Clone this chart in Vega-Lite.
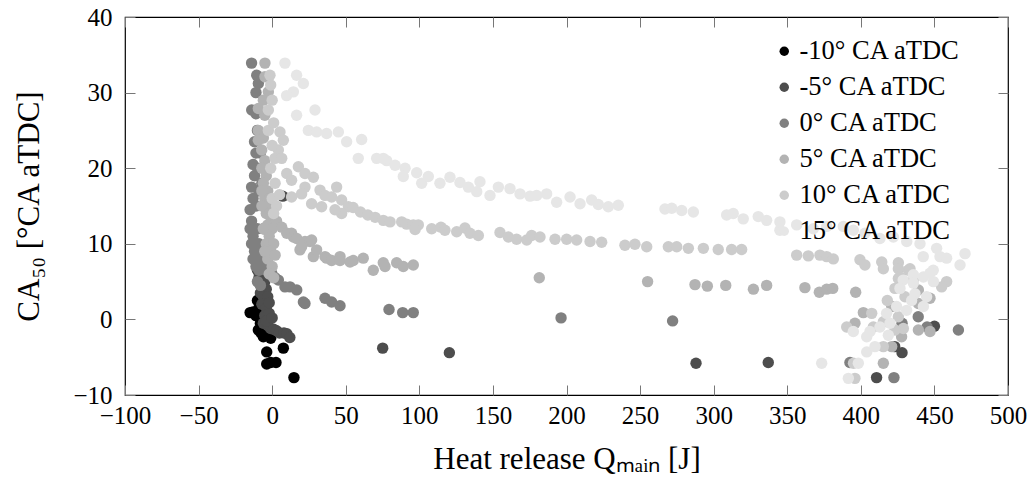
{
  "$schema": "https://vega.github.io/schema/vega-lite/v6.json",
  "width": 883,
  "height": 378,
  "autosize": "none",
  "padding": {"left": 125, "top": 17, "right": 25, "bottom": 84},
  "background": "white",
  "config": {
    "view": {"stroke": "black", "strokeWidth": 1.2},
    "font": "Liberation Serif",
    "axis": {"grid": false, "domain": false, "tickColor": "#777", "tickSize": -10, "tickWidth": 1,
             "labelFont": "Liberation Serif", "labelFontSize": 25, "labelColor": "black",
             "titleFont": "Liberation Serif", "titleFontSize": 31, "titleFontWeight": "normal", "titleColor": "black"}
  },
  "datasets": {
    "pts": [
      {"q": -15, "ca": 0.9, "s": "-10° CA aTDC"},
      {"q": -13, "ca": 1.0, "s": "-10° CA aTDC"},
      {"q": -11, "ca": 0.5, "s": "-10° CA aTDC"},
      {"q": -9.4, "ca": -1.4, "s": "-10° CA aTDC"},
      {"q": -7.6, "ca": -1.8, "s": "-10° CA aTDC"},
      {"q": -6, "ca": -2.3, "s": "-10° CA aTDC"},
      {"q": -5, "ca": -1.0, "s": "-10° CA aTDC"},
      {"q": -3, "ca": -2.0, "s": "-10° CA aTDC"},
      {"q": -8, "ca": -0.5, "s": "-10° CA aTDC"},
      {"q": -10, "ca": 2.5, "s": "-10° CA aTDC"},
      {"q": -9, "ca": 1.5, "s": "-10° CA aTDC"},
      {"q": -7, "ca": 3, "s": "-10° CA aTDC"},
      {"q": -3.7, "ca": -4.3, "s": "-10° CA aTDC"},
      {"q": 7.6, "ca": -3.8, "s": "-10° CA aTDC"},
      {"q": -3.7, "ca": -5.9, "s": "-10° CA aTDC"},
      {"q": -1, "ca": -5.7, "s": "-10° CA aTDC"},
      {"q": 2.6, "ca": -5.7, "s": "-10° CA aTDC"},
      {"q": 14.8, "ca": -7.7, "s": "-10° CA aTDC"},
      {"q": -4, "ca": -1.6, "s": "-10° CA aTDC"},
      {"q": -1, "ca": -2.5, "s": "-10° CA aTDC"},

      {"q": -8, "ca": 7, "s": "-5° CA aTDC"},
      {"q": -6, "ca": 6, "s": "-5° CA aTDC"},
      {"q": -9, "ca": 5.5, "s": "-5° CA aTDC"},
      {"q": -5, "ca": 5, "s": "-5° CA aTDC"},
      {"q": -7, "ca": 4.5, "s": "-5° CA aTDC"},
      {"q": -4, "ca": 4, "s": "-5° CA aTDC"},
      {"q": -8, "ca": 3.5, "s": "-5° CA aTDC"},
      {"q": -6, "ca": 3, "s": "-5° CA aTDC"},
      {"q": -3, "ca": 3, "s": "-5° CA aTDC"},
      {"q": -7, "ca": 2, "s": "-5° CA aTDC"},
      {"q": -4, "ca": 1.5, "s": "-5° CA aTDC"},
      {"q": -5, "ca": 0.5, "s": "-5° CA aTDC"},
      {"q": -2, "ca": 0.8, "s": "-5° CA aTDC"},
      {"q": -6, "ca": -0.5, "s": "-5° CA aTDC"},
      {"q": -3, "ca": -0.8, "s": "-5° CA aTDC"},
      {"q": -1, "ca": -1.2, "s": "-5° CA aTDC"},
      {"q": 1, "ca": -1.3, "s": "-5° CA aTDC"},
      {"q": 3, "ca": -1.5, "s": "-5° CA aTDC"},
      {"q": 5, "ca": -1.8, "s": "-5° CA aTDC"},
      {"q": 8, "ca": -1.8, "s": "-5° CA aTDC"},
      {"q": 10, "ca": -1.9, "s": "-5° CA aTDC"},
      {"q": 12, "ca": -2.4, "s": "-5° CA aTDC"},
      {"q": -2, "ca": 2.2, "s": "-5° CA aTDC"},
      {"q": -4, "ca": -0.2, "s": "-5° CA aTDC"},
      {"q": 0, "ca": 0.2, "s": "-5° CA aTDC"},
      {"q": -10, "ca": 6.5, "s": "-5° CA aTDC"},
      {"q": -12, "ca": 8, "s": "-5° CA aTDC"},
      {"q": 7.2, "ca": 16.3, "s": "-5° CA aTDC"},
      {"q": 75.1, "ca": -3.8, "s": "-5° CA aTDC"},
      {"q": 120.4, "ca": -4.4, "s": "-5° CA aTDC"},
      {"q": 288, "ca": -5.8, "s": "-5° CA aTDC"},
      {"q": 337.1, "ca": -5.7, "s": "-5° CA aTDC"},
      {"q": 410.7, "ca": -7.7, "s": "-5° CA aTDC"},
      {"q": 428, "ca": -4.4, "s": "-5° CA aTDC"},
      {"q": 423, "ca": -3.6, "s": "-5° CA aTDC"},
      {"q": 450, "ca": -0.9, "s": "-5° CA aTDC"},

      {"q": -14, "ca": 33.9, "s": "0° CA aTDC"},
      {"q": -10.5, "ca": 32.3, "s": "0° CA aTDC"},
      {"q": -9.4, "ca": 31.2, "s": "0° CA aTDC"},
      {"q": -11, "ca": 30, "s": "0° CA aTDC"},
      {"q": -13.9, "ca": 27.7, "s": "0° CA aTDC"},
      {"q": -11, "ca": 27.2, "s": "0° CA aTDC"},
      {"q": -10, "ca": 25, "s": "0° CA aTDC"},
      {"q": -12, "ca": 23.5, "s": "0° CA aTDC"},
      {"q": -11, "ca": 22, "s": "0° CA aTDC"},
      {"q": -13, "ca": 20.5, "s": "0° CA aTDC"},
      {"q": -12, "ca": 19, "s": "0° CA aTDC"},
      {"q": -14, "ca": 17.5, "s": "0° CA aTDC"},
      {"q": -13, "ca": 16, "s": "0° CA aTDC"},
      {"q": -15, "ca": 14.5, "s": "0° CA aTDC"},
      {"q": -14, "ca": 13, "s": "0° CA aTDC"},
      {"q": -15, "ca": 12, "s": "0° CA aTDC"},
      {"q": -13, "ca": 11, "s": "0° CA aTDC"},
      {"q": -14, "ca": 10, "s": "0° CA aTDC"},
      {"q": -12, "ca": 9, "s": "0° CA aTDC"},
      {"q": -13, "ca": 8, "s": "0° CA aTDC"},
      {"q": -11, "ca": 7, "s": "0° CA aTDC"},
      {"q": -9, "ca": 6.5, "s": "0° CA aTDC"},
      {"q": -10, "ca": 5, "s": "0° CA aTDC"},
      {"q": -8, "ca": 4.5, "s": "0° CA aTDC"},
      {"q": -8, "ca": 8, "s": "0° CA aTDC"},
      {"q": -9, "ca": 10, "s": "0° CA aTDC"},
      {"q": -10, "ca": 12, "s": "0° CA aTDC"},
      {"q": -11, "ca": 15, "s": "0° CA aTDC"},
      {"q": -9, "ca": 17, "s": "0° CA aTDC"},
      {"q": -10, "ca": 20, "s": "0° CA aTDC"},
      {"q": -8, "ca": 22, "s": "0° CA aTDC"},
      {"q": -7, "ca": 18, "s": "0° CA aTDC"},
      {"q": -6, "ca": 12, "s": "0° CA aTDC"},
      {"q": -7, "ca": 9, "s": "0° CA aTDC"},
      {"q": -5, "ca": 7, "s": "0° CA aTDC"},
      {"q": -4, "ca": 6.5, "s": "0° CA aTDC"},
      {"q": -0.3, "ca": 6.1, "s": "0° CA aTDC"},
      {"q": 2, "ca": 5.5, "s": "0° CA aTDC"},
      {"q": 4.2, "ca": 5.2, "s": "0° CA aTDC"},
      {"q": 8.7, "ca": 4.3, "s": "0° CA aTDC"},
      {"q": 12.1, "ca": 4.3, "s": "0° CA aTDC"},
      {"q": 16.7, "ca": 3.9, "s": "0° CA aTDC"},
      {"q": 22.3, "ca": 2.1, "s": "0° CA aTDC"},
      {"q": 21.2, "ca": 2.3, "s": "0° CA aTDC"},
      {"q": 35.9, "ca": 2.8, "s": "0° CA aTDC"},
      {"q": 40.4, "ca": 2.3, "s": "0° CA aTDC"},
      {"q": 46.1, "ca": 1.8, "s": "0° CA aTDC"},
      {"q": 79.4, "ca": 1.3, "s": "0° CA aTDC"},
      {"q": 88.7, "ca": 0.9, "s": "0° CA aTDC"},
      {"q": 95.9, "ca": 0.9, "s": "0° CA aTDC"},
      {"q": 196.3, "ca": 0.2, "s": "0° CA aTDC"},
      {"q": 272.1, "ca": -0.2, "s": "0° CA aTDC"},
      {"q": 392.6, "ca": -5.7, "s": "0° CA aTDC"},
      {"q": 422.5, "ca": -7.7, "s": "0° CA aTDC"},
      {"q": 466.3, "ca": -1.4, "s": "0° CA aTDC"},
      {"q": 439, "ca": 0.35, "s": "0° CA aTDC"},
      {"q": 428, "ca": -0.5, "s": "0° CA aTDC"},
      {"q": 445, "ca": -1, "s": "0° CA aTDC"},

      {"q": -4.9, "ca": 33.9, "s": "5° CA aTDC"},
      {"q": -4.9, "ca": 32.1, "s": "5° CA aTDC"},
      {"q": -2.6, "ca": 30.1, "s": "5° CA aTDC"},
      {"q": -6, "ca": 29, "s": "5° CA aTDC"},
      {"q": -9.4, "ca": 27.9, "s": "5° CA aTDC"},
      {"q": -5, "ca": 27, "s": "5° CA aTDC"},
      {"q": -9.4, "ca": 25, "s": "5° CA aTDC"},
      {"q": -6, "ca": 24, "s": "5° CA aTDC"},
      {"q": -9.4, "ca": 23.7, "s": "5° CA aTDC"},
      {"q": -7.1, "ca": 22.4, "s": "5° CA aTDC"},
      {"q": -5, "ca": 21, "s": "5° CA aTDC"},
      {"q": -7, "ca": 20, "s": "5° CA aTDC"},
      {"q": -4, "ca": 19, "s": "5° CA aTDC"},
      {"q": -6, "ca": 18, "s": "5° CA aTDC"},
      {"q": -3, "ca": 17, "s": "5° CA aTDC"},
      {"q": -5, "ca": 16, "s": "5° CA aTDC"},
      {"q": -2, "ca": 15, "s": "5° CA aTDC"},
      {"q": -4, "ca": 14, "s": "5° CA aTDC"},
      {"q": -1, "ca": 13.5, "s": "5° CA aTDC"},
      {"q": -3, "ca": 12.5, "s": "5° CA aTDC"},
      {"q": 0, "ca": 12, "s": "5° CA aTDC"},
      {"q": -2, "ca": 11, "s": "5° CA aTDC"},
      {"q": -4, "ca": 10, "s": "5° CA aTDC"},
      {"q": 1, "ca": 10, "s": "5° CA aTDC"},
      {"q": -1, "ca": 9, "s": "5° CA aTDC"},
      {"q": -3, "ca": 8, "s": "5° CA aTDC"},
      {"q": 2, "ca": 8.5, "s": "5° CA aTDC"},
      {"q": 0, "ca": 7, "s": "5° CA aTDC"},
      {"q": -2, "ca": 6, "s": "5° CA aTDC"},
      {"q": 1, "ca": 5.5, "s": "5° CA aTDC"},
      {"q": -5, "ca": 9, "s": "5° CA aTDC"},
      {"q": -6, "ca": 12, "s": "5° CA aTDC"},
      {"q": -7, "ca": 15, "s": "5° CA aTDC"},
      {"q": -7, "ca": 17, "s": "5° CA aTDC"},
      {"q": 3, "ca": 13, "s": "5° CA aTDC"},
      {"q": 6.5, "ca": 12.2, "s": "5° CA aTDC"},
      {"q": 9.9, "ca": 11.4, "s": "5° CA aTDC"},
      {"q": 13.2, "ca": 11.4, "s": "5° CA aTDC"},
      {"q": 14.4, "ca": 10.9, "s": "5° CA aTDC"},
      {"q": 16.7, "ca": 10.7, "s": "5° CA aTDC"},
      {"q": 22.3, "ca": 10.3, "s": "5° CA aTDC"},
      {"q": 25.7, "ca": 10.3, "s": "5° CA aTDC"},
      {"q": 26.8, "ca": 10.5, "s": "5° CA aTDC"},
      {"q": 18.9, "ca": 9.2, "s": "5° CA aTDC"},
      {"q": 20, "ca": 9.6, "s": "5° CA aTDC"},
      {"q": 28, "ca": 8.3, "s": "5° CA aTDC"},
      {"q": 30.2, "ca": 9.2, "s": "5° CA aTDC"},
      {"q": 35.9, "ca": 8.3, "s": "5° CA aTDC"},
      {"q": 37, "ca": 8.1, "s": "5° CA aTDC"},
      {"q": 40.4, "ca": 7.8, "s": "5° CA aTDC"},
      {"q": 46.1, "ca": 8.3, "s": "5° CA aTDC"},
      {"q": 46.1, "ca": 7.8, "s": "5° CA aTDC"},
      {"q": 52.9, "ca": 7.6, "s": "5° CA aTDC"},
      {"q": 55.1, "ca": 7.8, "s": "5° CA aTDC"},
      {"q": 61.9, "ca": 8.1, "s": "5° CA aTDC"},
      {"q": 68.7, "ca": 6.5, "s": "5° CA aTDC"},
      {"q": 75.5, "ca": 7.5, "s": "5° CA aTDC"},
      {"q": 76.7, "ca": 7.0, "s": "5° CA aTDC"},
      {"q": 84.6, "ca": 7.5, "s": "5° CA aTDC"},
      {"q": 89.1, "ca": 7.0, "s": "5° CA aTDC"},
      {"q": 95.9, "ca": 7.2, "s": "5° CA aTDC"},
      {"q": 181.5, "ca": 5.5, "s": "5° CA aTDC"},
      {"q": 255.1, "ca": 5.0, "s": "5° CA aTDC"},
      {"q": 287.3, "ca": 4.6, "s": "5° CA aTDC"},
      {"q": 295.7, "ca": 4.4, "s": "5° CA aTDC"},
      {"q": 308.2, "ca": 4.5, "s": "5° CA aTDC"},
      {"q": 327, "ca": 4.0, "s": "5° CA aTDC"},
      {"q": 336, "ca": 4.5, "s": "5° CA aTDC"},
      {"q": 362, "ca": 4.2, "s": "5° CA aTDC"},
      {"q": 371.8, "ca": 3.6, "s": "5° CA aTDC"},
      {"q": 376.8, "ca": 4.0, "s": "5° CA aTDC"},
      {"q": 380.9, "ca": 4.1, "s": "5° CA aTDC"},
      {"q": 396.5, "ca": 3.6, "s": "5° CA aTDC"},
      {"q": 401.7, "ca": 0.9, "s": "5° CA aTDC"},
      {"q": 421, "ca": 1.7, "s": "5° CA aTDC"},
      {"q": 439.1, "ca": 2.1, "s": "5° CA aTDC"},
      {"q": 447, "ca": 2.8, "s": "5° CA aTDC"},
      {"q": 427.7, "ca": -2.3, "s": "5° CA aTDC"},
      {"q": 439.1, "ca": -1.4, "s": "5° CA aTDC"},
      {"q": 447, "ca": -1.6, "s": "5° CA aTDC"},
      {"q": 421, "ca": -3.6, "s": "5° CA aTDC"},
      {"q": 415.3, "ca": -5.8, "s": "5° CA aTDC"},
      {"q": 439.1, "ca": 3.9, "s": "5° CA aTDC"},
      {"q": 396, "ca": -0.5, "s": "5° CA aTDC"},

      {"q": -1.5, "ca": 32.3, "s": "10° CA aTDC"},
      {"q": -2.6, "ca": 27.7, "s": "10° CA aTDC"},
      {"q": -2.6, "ca": 25, "s": "10° CA aTDC"},
      {"q": 0, "ca": 29, "s": "10° CA aTDC"},
      {"q": -1, "ca": 31, "s": "10° CA aTDC"},
      {"q": 1, "ca": 26, "s": "10° CA aTDC"},
      {"q": 5.3, "ca": 24.8, "s": "10° CA aTDC"},
      {"q": 7.6, "ca": 23.7, "s": "10° CA aTDC"},
      {"q": 4.2, "ca": 22.4, "s": "10° CA aTDC"},
      {"q": 1.9, "ca": 21.3, "s": "10° CA aTDC"},
      {"q": 6.5, "ca": 21.3, "s": "10° CA aTDC"},
      {"q": 0, "ca": 23, "s": "10° CA aTDC"},
      {"q": -1, "ca": 20, "s": "10° CA aTDC"},
      {"q": 2, "ca": 18, "s": "10° CA aTDC"},
      {"q": 0, "ca": 16, "s": "10° CA aTDC"},
      {"q": 3, "ca": 15, "s": "10° CA aTDC"},
      {"q": 1, "ca": 14, "s": "10° CA aTDC"},
      {"q": 5, "ca": 16.5, "s": "10° CA aTDC"},
      {"q": 9.9, "ca": 19.3, "s": "10° CA aTDC"},
      {"q": 17.8, "ca": 20.2, "s": "10° CA aTDC"},
      {"q": 22.3, "ca": 19.3, "s": "10° CA aTDC"},
      {"q": 28, "ca": 18.8, "s": "10° CA aTDC"},
      {"q": 13.2, "ca": 18.4, "s": "10° CA aTDC"},
      {"q": 22.3, "ca": 17.5, "s": "10° CA aTDC"},
      {"q": 32.5, "ca": 17.1, "s": "10° CA aTDC"},
      {"q": 43.8, "ca": 17.5, "s": "10° CA aTDC"},
      {"q": 20, "ca": 16.6, "s": "10° CA aTDC"},
      {"q": 35.9, "ca": 16.4, "s": "10° CA aTDC"},
      {"q": 40.4, "ca": 16.2, "s": "10° CA aTDC"},
      {"q": 47.2, "ca": 15.8, "s": "10° CA aTDC"},
      {"q": 51.8, "ca": 14.9, "s": "10° CA aTDC"},
      {"q": 47.2, "ca": 14.0, "s": "10° CA aTDC"},
      {"q": 42.7, "ca": 14.5, "s": "10° CA aTDC"},
      {"q": 33.6, "ca": 14.9, "s": "10° CA aTDC"},
      {"q": 26.8, "ca": 15.3, "s": "10° CA aTDC"},
      {"q": 13.2, "ca": 16.2, "s": "10° CA aTDC"},
      {"q": 55, "ca": 14.8, "s": "10° CA aTDC"},
      {"q": 60, "ca": 14.2, "s": "10° CA aTDC"},
      {"q": 65, "ca": 13.8, "s": "10° CA aTDC"},
      {"q": 70, "ca": 13.5, "s": "10° CA aTDC"},
      {"q": 75.5, "ca": 13.1, "s": "10° CA aTDC"},
      {"q": 80.1, "ca": 12.9, "s": "10° CA aTDC"},
      {"q": 88, "ca": 12.9, "s": "10° CA aTDC"},
      {"q": 91.4, "ca": 12.6, "s": "10° CA aTDC"},
      {"q": 95.9, "ca": 12.5, "s": "10° CA aTDC"},
      {"q": 99.3, "ca": 12.5, "s": "10° CA aTDC"},
      {"q": 97.1, "ca": 11.9, "s": "10° CA aTDC"},
      {"q": 108.4, "ca": 12.0, "s": "10° CA aTDC"},
      {"q": 114.7, "ca": 12.2, "s": "10° CA aTDC"},
      {"q": 117.4, "ca": 11.8, "s": "10° CA aTDC"},
      {"q": 125.4, "ca": 11.6, "s": "10° CA aTDC"},
      {"q": 131, "ca": 12.1, "s": "10° CA aTDC"},
      {"q": 134.4, "ca": 11.4, "s": "10° CA aTDC"},
      {"q": 140.1, "ca": 11.1, "s": "10° CA aTDC"},
      {"q": 154.8, "ca": 11.5, "s": "10° CA aTDC"},
      {"q": 160.5, "ca": 10.9, "s": "10° CA aTDC"},
      {"q": 166.1, "ca": 10.6, "s": "10° CA aTDC"},
      {"q": 173, "ca": 10.5, "s": "10° CA aTDC"},
      {"q": 176.3, "ca": 11.1, "s": "10° CA aTDC"},
      {"q": 182, "ca": 10.9, "s": "10° CA aTDC"},
      {"q": 192.2, "ca": 10.6, "s": "10° CA aTDC"},
      {"q": 200.1, "ca": 10.6, "s": "10° CA aTDC"},
      {"q": 206.9, "ca": 10.5, "s": "10° CA aTDC"},
      {"q": 216, "ca": 10.3, "s": "10° CA aTDC"},
      {"q": 223.9, "ca": 10.2, "s": "10° CA aTDC"},
      {"q": 239.7, "ca": 9.8, "s": "10° CA aTDC"},
      {"q": 246.5, "ca": 9.95, "s": "10° CA aTDC"},
      {"q": 254.5, "ca": 9.6, "s": "10° CA aTDC"},
      {"q": 269.2, "ca": 9.6, "s": "10° CA aTDC"},
      {"q": 274.9, "ca": 9.6, "s": "10° CA aTDC"},
      {"q": 282.8, "ca": 9.4, "s": "10° CA aTDC"},
      {"q": 293, "ca": 9.4, "s": "10° CA aTDC"},
      {"q": 303.1, "ca": 9.25, "s": "10° CA aTDC"},
      {"q": 312.2, "ca": 9.25, "s": "10° CA aTDC"},
      {"q": 319, "ca": 9.25, "s": "10° CA aTDC"},
      {"q": 356.4, "ca": 8.5, "s": "10° CA aTDC"},
      {"q": 364.3, "ca": 8.4, "s": "10° CA aTDC"},
      {"q": 372.2, "ca": 8.5, "s": "10° CA aTDC"},
      {"q": 376.8, "ca": 8.3, "s": "10° CA aTDC"},
      {"q": 381.3, "ca": 8.0, "s": "10° CA aTDC"},
      {"q": 399.4, "ca": 7.9, "s": "10° CA aTDC"},
      {"q": 402.8, "ca": 7.2, "s": "10° CA aTDC"},
      {"q": 414.2, "ca": 7.6, "s": "10° CA aTDC"},
      {"q": 415.3, "ca": 6.7, "s": "10° CA aTDC"},
      {"q": 425.5, "ca": 7.5, "s": "10° CA aTDC"},
      {"q": 425.5, "ca": 6.7, "s": "10° CA aTDC"},
      {"q": 432.3, "ca": 6.5, "s": "10° CA aTDC"},
      {"q": 425.5, "ca": 5.4, "s": "10° CA aTDC"},
      {"q": 435.7, "ca": 5.2, "s": "10° CA aTDC"},
      {"q": 423.2, "ca": 4.1, "s": "10° CA aTDC"},
      {"q": 458.3, "ca": 5.0, "s": "10° CA aTDC"},
      {"q": 454.9, "ca": 4.3, "s": "10° CA aTDC"},
      {"q": 425.5, "ca": 0.35, "s": "10° CA aTDC"},
      {"q": 407.4, "ca": 0.8, "s": "10° CA aTDC"},
      {"q": 390.4, "ca": -1.0, "s": "10° CA aTDC"},
      {"q": 408.5, "ca": -1.0, "s": "10° CA aTDC"},
      {"q": 415.3, "ca": -0.3, "s": "10° CA aTDC"},
      {"q": 428.9, "ca": -1.2, "s": "10° CA aTDC"},
      {"q": 415.3, "ca": -3.6, "s": "10° CA aTDC"},
      {"q": 396, "ca": -7.8, "s": "10° CA aTDC"},
      {"q": 433.4, "ca": 6.7, "s": "10° CA aTDC"},
      {"q": 426.6, "ca": 5.6, "s": "10° CA aTDC"},
      {"q": 423.2, "ca": -1.4, "s": "10° CA aTDC"},
      {"q": 418, "ca": 2.5, "s": "10° CA aTDC"},
      {"q": 430, "ca": 3, "s": "10° CA aTDC"},
      {"q": 395, "ca": -5.8, "s": "10° CA aTDC"},

      {"q": 8.7, "ca": 33.9, "s": "15° CA aTDC"},
      {"q": 16.6, "ca": 32.3, "s": "15° CA aTDC"},
      {"q": 21.2, "ca": 31.2, "s": "15° CA aTDC"},
      {"q": 14.4, "ca": 30.1, "s": "15° CA aTDC"},
      {"q": 9.8, "ca": 29.6, "s": "15° CA aTDC"},
      {"q": 29.1, "ca": 27.7, "s": "15° CA aTDC"},
      {"q": 16.6, "ca": 27, "s": "15° CA aTDC"},
      {"q": 24.6, "ca": 25, "s": "15° CA aTDC"},
      {"q": 30.2, "ca": 24.8, "s": "15° CA aTDC"},
      {"q": 37, "ca": 24.6, "s": "15° CA aTDC"},
      {"q": 45, "ca": 24.8, "s": "15° CA aTDC"},
      {"q": 50.6, "ca": 23.5, "s": "15° CA aTDC"},
      {"q": 60.8, "ca": 23.8, "s": "15° CA aTDC"},
      {"q": 58.5, "ca": 21.3, "s": "15° CA aTDC"},
      {"q": 71, "ca": 21.3, "s": "15° CA aTDC"},
      {"q": 77.8, "ca": 21, "s": "15° CA aTDC"},
      {"q": 83.5, "ca": 20.4, "s": "15° CA aTDC"},
      {"q": 75.5, "ca": 21.3, "s": "15° CA aTDC"},
      {"q": 90.3, "ca": 20, "s": "15° CA aTDC"},
      {"q": 89.1, "ca": 18.9, "s": "15° CA aTDC"},
      {"q": 98.2, "ca": 19.4, "s": "15° CA aTDC"},
      {"q": 101.6, "ca": 18, "s": "15° CA aTDC"},
      {"q": 106.1, "ca": 18.9, "s": "15° CA aTDC"},
      {"q": 114, "ca": 18, "s": "15° CA aTDC"},
      {"q": 120.8, "ca": 18.8, "s": "15° CA aTDC"},
      {"q": 127.6, "ca": 18.1, "s": "15° CA aTDC"},
      {"q": 133.3, "ca": 17.5, "s": "15° CA aTDC"},
      {"q": 139, "ca": 16.9, "s": "15° CA aTDC"},
      {"q": 141.2, "ca": 18.2, "s": "15° CA aTDC"},
      {"q": 148, "ca": 16.4, "s": "15° CA aTDC"},
      {"q": 153.7, "ca": 17.5, "s": "15° CA aTDC"},
      {"q": 161.6, "ca": 17.3, "s": "15° CA aTDC"},
      {"q": 168.4, "ca": 16.6, "s": "15° CA aTDC"},
      {"q": 175.2, "ca": 16.3, "s": "15° CA aTDC"},
      {"q": 179.7, "ca": 16.4, "s": "15° CA aTDC"},
      {"q": 186.5, "ca": 16.6, "s": "15° CA aTDC"},
      {"q": 193.3, "ca": 15.5, "s": "15° CA aTDC"},
      {"q": 202.4, "ca": 16.2, "s": "15° CA aTDC"},
      {"q": 209.2, "ca": 15.3, "s": "15° CA aTDC"},
      {"q": 217.1, "ca": 15.8, "s": "15° CA aTDC"},
      {"q": 221.6, "ca": 15.2, "s": "15° CA aTDC"},
      {"q": 228.4, "ca": 14.9, "s": "15° CA aTDC"},
      {"q": 235.2, "ca": 15.1, "s": "15° CA aTDC"},
      {"q": 266.9, "ca": 14.6, "s": "15° CA aTDC"},
      {"q": 271.5, "ca": 14.7, "s": "15° CA aTDC"},
      {"q": 278.3, "ca": 14.4, "s": "15° CA aTDC"},
      {"q": 286.2, "ca": 14.2, "s": "15° CA aTDC"},
      {"q": 308.8, "ca": 13.8, "s": "15° CA aTDC"},
      {"q": 313.3, "ca": 14.0, "s": "15° CA aTDC"},
      {"q": 320.1, "ca": 13.3, "s": "15° CA aTDC"},
      {"q": 330.3, "ca": 13.6, "s": "15° CA aTDC"},
      {"q": 336, "ca": 13.1, "s": "15° CA aTDC"},
      {"q": 345, "ca": 11.8, "s": "15° CA aTDC"},
      {"q": 345, "ca": 12.9, "s": "15° CA aTDC"},
      {"q": 356.4, "ca": 12.5, "s": "15° CA aTDC"},
      {"q": 367.7, "ca": 12.0, "s": "15° CA aTDC"},
      {"q": 376.8, "ca": 12.3, "s": "15° CA aTDC"},
      {"q": 388.1, "ca": 12.3, "s": "15° CA aTDC"},
      {"q": 394.9, "ca": 11.8, "s": "15° CA aTDC"},
      {"q": 402.8, "ca": 11.4, "s": "15° CA aTDC"},
      {"q": 413, "ca": 10.7, "s": "15° CA aTDC"},
      {"q": 422.1, "ca": 10.9, "s": "15° CA aTDC"},
      {"q": 431.2, "ca": 10.3, "s": "15° CA aTDC"},
      {"q": 440.2, "ca": 10.0, "s": "15° CA aTDC"},
      {"q": 442.4, "ca": 8.3, "s": "15° CA aTDC"},
      {"q": 451.5, "ca": 9.4, "s": "15° CA aTDC"},
      {"q": 453.8, "ca": 8.3, "s": "15° CA aTDC"},
      {"q": 458.3, "ca": 8.1, "s": "15° CA aTDC"},
      {"q": 470.8, "ca": 8.7, "s": "15° CA aTDC"},
      {"q": 467.4, "ca": 7.2, "s": "15° CA aTDC"},
      {"q": 449.2, "ca": 6.5, "s": "15° CA aTDC"},
      {"q": 435.7, "ca": 5.9, "s": "15° CA aTDC"},
      {"q": 442.5, "ca": 5.6, "s": "15° CA aTDC"},
      {"q": 447, "ca": 6.1, "s": "15° CA aTDC"},
      {"q": 449.3, "ca": 5.0, "s": "15° CA aTDC"},
      {"q": 428.8, "ca": 5.2, "s": "15° CA aTDC"},
      {"q": 426.6, "ca": 4.1, "s": "15° CA aTDC"},
      {"q": 435.7, "ca": 4.8, "s": "15° CA aTDC"},
      {"q": 436.8, "ca": 3.4, "s": "15° CA aTDC"},
      {"q": 434.5, "ca": 2.5, "s": "15° CA aTDC"},
      {"q": 444.7, "ca": 3.0, "s": "15° CA aTDC"},
      {"q": 442.5, "ca": 1.7, "s": "15° CA aTDC"},
      {"q": 431.1, "ca": 1.2, "s": "15° CA aTDC"},
      {"q": 424.3, "ca": 1.7, "s": "15° CA aTDC"},
      {"q": 417.5, "ca": 0.8, "s": "15° CA aTDC"},
      {"q": 413, "ca": -1.0, "s": "15° CA aTDC"},
      {"q": 419.8, "ca": -0.5, "s": "15° CA aTDC"},
      {"q": 394.9, "ca": -1.6, "s": "15° CA aTDC"},
      {"q": 406.2, "ca": -1.6, "s": "15° CA aTDC"},
      {"q": 418.7, "ca": -2.1, "s": "15° CA aTDC"},
      {"q": 404, "ca": -2.3, "s": "15° CA aTDC"},
      {"q": 404, "ca": -4.3, "s": "15° CA aTDC"},
      {"q": 409.6, "ca": -3.6, "s": "15° CA aTDC"},
      {"q": 398.3, "ca": -5.8, "s": "15° CA aTDC"},
      {"q": 373.4, "ca": -5.8, "s": "15° CA aTDC"},
      {"q": 391.5, "ca": -7.8, "s": "15° CA aTDC"}
    ]
  },
  "data": {"name": "pts"},
  "layer": [
    {
      "mark": {"type": "point", "filled": true, "shape": "circle", "opacity": 1, "size": 130, "strokeWidth": 0},
      "encoding": {
        "x": {"field": "q", "type": "quantitative",
              "scale": {"domain": [-100, 500], "nice": false, "zero": false},
              "axis": {"orient": "bottom", "values": [-100, -50, 0, 50, 100, 150, 200, 250, 300, 350, 400, 450, 500],
                       "labelPadding": 18, "title": "Heat release Qₘₐᵢₙ [J]", "titlePadding": 16, "labelFlush": false}},
        "y": {"field": "ca", "type": "quantitative",
              "scale": {"domain": [-10, 40], "nice": false, "zero": false},
              "axis": {"orient": "left", "values": [-10, 0, 10, 20, 30, 40],
                       "labelPadding": 23, "title": "CA₅₀ [°CA aTDC]", "titlePadding": 27, "labelFlush": false}},
        "color": {"field": "s", "type": "nominal",
                  "scale": {"domain": ["-10° CA aTDC", "-5° CA aTDC", "0° CA aTDC", "5° CA aTDC", "10° CA aTDC", "15° CA aTDC"],
                            "range": ["#000000", "#4d4d4d", "#808080", "#b3b3b3", "#cccccc", "#e6e6e6"]},
                  "legend": {"title": null, "orient": "none", "legendX": 646, "legendY": 21,
                             "labelFont": "Liberation Serif", "labelFontSize": 26.5, "labelColor": "black", "labelLimit": 400,
                             "symbolType": "circle", "symbolSize": 90, "symbolStrokeWidth": 0, "symbolOpacity": 1,
                             "rowPadding": 9, "labelOffset": 2, "padding": 0}},
        "order": {"value": 0}
      }
    },
    {
      "mark": {"type": "point", "opacity": 0},
      "encoding": {
        "x": {"field": "q", "type": "quantitative",
              "axis": {"orient": "top", "values": [-100, -50, 0, 50, 100, 150, 200, 250, 300, 350, 400, 450, 500], "labels": false, "title": null}},
        "y": {"field": "ca", "type": "quantitative",
              "axis": {"orient": "right", "values": [-10, 0, 10, 20, 30, 40], "labels": false, "title": null}}
      }
    }
  ],
  "resolve": {"axis": {"x": "independent", "y": "independent"}}
}
